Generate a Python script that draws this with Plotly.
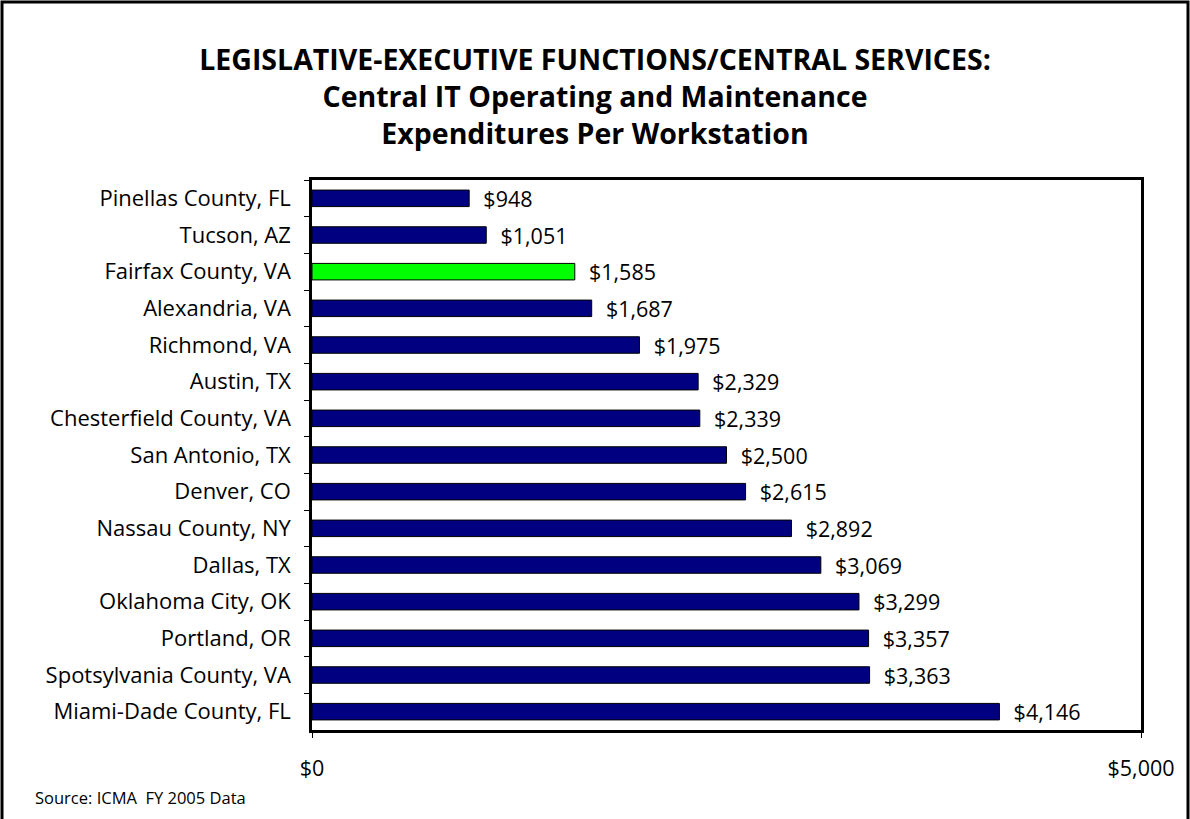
import plotly.graph_objects as go

# Expenditure per workstation, listed top to bottom
jurisdictions = [
    "Pinellas County, FL", "Tucson, AZ", "Fairfax County, VA", "Alexandria, VA",
    "Richmond, VA", "Austin, TX", "Chesterfield County, VA", "San Antonio, TX",
    "Denver, CO", "Nassau County, NY", "Dallas, TX", "Oklahoma City, OK",
    "Portland, OR", "Spotsylvania County, VA", "Miami-Dade County, FL",
]
expenditures = [948, 1051, 1585, 1687, 1975, 2329, 2339, 2500, 2615, 2892,
                3069, 3299, 3357, 3363, 4146]
highlight = "Fairfax County, VA"

x_ticks = [0, 5000]
x_tick_labels = ["$0", "$5,000"]

FONT = "Open Sans"
W, H = 1190, 819
ML, MR, MT, MB = 312, 49, 180, 89

colors = ["#00FF00" if j == highlight else "#000080" for j in jurisdictions]

fig = go.Figure(go.Bar(
    x=expenditures,
    y=jurisdictions,
    orientation="h",
    marker=dict(color=colors, line=dict(color="black", width=1)),
    width=0.45,
    texttemplate="\u00a0\u00a0$%{x:,}",
    textposition="outside",
    constraintext="none",
    textfont=dict(family=FONT, size=21.5, color="black"),
    cliponaxis=False,
))

# outer frame around the whole page, expressed in paper coordinates
pw, ph = W - ML - MR, H - MT - MB
def px_x(p):
    return (p - ML) / pw
def px_y(p):
    return (H - MB - p) / ph

fig.add_shape(type="rect", xref="paper", yref="paper",
              x0=px_x(2), x1=px_x(W - 2), y0=px_y(H + 10), y1=px_y(2),
              line=dict(color="black", width=3), layer="above")

fig.update_layout(
    width=W, height=H,
    margin=dict(l=ML, r=MR, t=MT, b=MB),
    paper_bgcolor="white", plot_bgcolor="white",
    showlegend=False,
    font=dict(family=FONT, size=22, color="black"),
    title=dict(
        text="<b>LEGISLATIVE-EXECUTIVE FUNCTIONS/CENTRAL SERVICES:<br>"
             "Central IT Operating and Maintenance<br>Expenditures Per Workstation</b>",
        x=0.5, xanchor="center", y=1 - 70 / H, yanchor="top",
        font=dict(family=FONT, size=28.5, color="black"),
    ),
    xaxis=dict(
        range=[0, 5000], tickvals=x_ticks, ticktext=x_tick_labels,
        showgrid=False, zeroline=False,
        showline=True, linecolor="black", linewidth=2.5, mirror=True,
        ticks="outside", ticklen=5, tickcolor="black",
        ticklabelstandoff=12,
        tickfont=dict(family=FONT, size=21.5),
    ),
    yaxis=dict(
        categoryorder="array", categoryarray=jurisdictions,
        autorange="reversed",
        showgrid=False, zeroline=False,
        showline=True, linecolor="black", linewidth=2.5, mirror=True,
        ticks="outside", ticklen=5, tickcolor="black", tickson="boundaries",
        ticklabelstandoff=14,
        tickfont=dict(family=FONT, size=22),
    ),
    bargap=0.55,
)

fig.add_annotation(text="Source: ICMA  FY 2005 Data", xref="paper", yref="paper",
                   x=px_x(33), y=px_y(797), xanchor="left", yanchor="middle",
                   showarrow=False, font=dict(family=FONT, size=16.5, color="black"))

fig.write_html("out.html")
